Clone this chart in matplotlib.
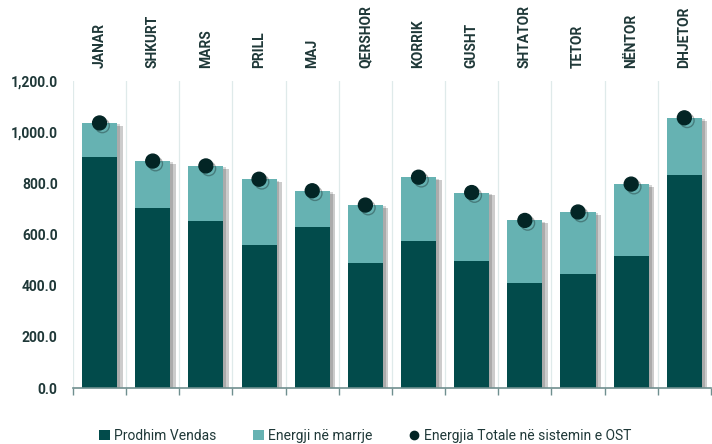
import matplotlib
matplotlib.use("Agg")
import matplotlib.pyplot as plt
import matplotlib.patheffects as pe
from matplotlib.patches import Patch
from matplotlib.lines import Line2D
from matplotlib.ticker import FuncFormatter, FixedLocator
import numpy as np

plt.rcParams['font.family'] = ['Roboto', 'DejaVu Sans']

months = ["JANAR", "SHKURT", "MARS", "PRILL", "MAJ", "QERSHOR",
          "KORRIK", "GUSHT", "SHTATOR", "TETOR", "NËNTOR", "DHJETOR"]
prodhim_vendas = [901, 703, 654, 560, 629, 488, 575, 496, 410, 444, 517, 833]
energji_marrje = [135, 184, 214, 256, 142, 227, 249, 268, 245, 244, 280, 223]
energji_totale = [a + b for a, b in zip(prodhim_vendas, energji_marrje)]

dark = "#024b4b"
light = "#66b2b2"
dot = "#032525"
text_col = "#1f3838"

fig = plt.figure(figsize=(7.12, 4.44), dpi=100)
ax = fig.add_axes([0.1025, 0.1261, 0.896, 0.6915])

x = np.arange(len(months))
bar_w = 0.66

# soft drop shadow behind each full stacked column
stack_tot = [a + b for a, b in zip(prodhim_vendas, energji_marrje)]
ax.bar(x, stack_tot, width=bar_w, color="white", zorder=2,
       path_effects=[pe.SimplePatchShadow(offset=(4, -2), shadow_rgbFace="#000000", alpha=0.2)])
ax.bar(x, stack_tot, width=bar_w, color="white", zorder=2,
       path_effects=[pe.SimplePatchShadow(offset=(2, -1), shadow_rgbFace="#000000", alpha=0.16)])

ax.bar(x, prodhim_vendas, width=bar_w, color=dark, zorder=3)
ax.bar(x, energji_marrje, width=bar_w, bottom=prodhim_vendas, color=light, zorder=3)

ax.plot(x, energji_totale, linestyle="none", marker="o", markersize=10,
        color=dot, zorder=5,
        path_effects=[pe.SimpleLineShadow(offset=(2, -2), shadow_color="#000000", alpha=0.3),
                      pe.Normal()])

ax.set_xlim(-0.5, len(months) - 0.5)
ax.set_ylim(0, 1200)
ax.set_yticks(np.arange(0, 1201, 200))
ax.yaxis.set_major_formatter(FuncFormatter(lambda v, p: f"{v:,.1f}"))

# month names along the top, boundaries ticked along the bottom
ax.set_xticks(x)
ax.set_xticklabels(months, rotation=90, fontsize=10, fontweight="bold", color=text_col)
ax.tick_params(axis="x", which="major", top=False, bottom=False,
               labeltop=True, labelbottom=False, pad=6)
ax.xaxis.set_minor_locator(FixedLocator(np.arange(-0.5, len(months), 1.0)))
ax.tick_params(axis="x", which="minor", bottom=True, length=5, width=1, color="#6f8f8f")
ax.grid(axis="x", which="minor", color="#dfeaea", linewidth=0.9, zorder=0)

ax.tick_params(axis="y", length=0, pad=11, labelsize=10, labelcolor=text_col)
for lbl in ax.get_yticklabels():
    lbl.set_fontweight("bold")

for s in ["top", "right", "left"]:
    ax.spines[s].set_visible(False)
ax.spines["bottom"].set_color("#6f8f8f")
ax.spines["bottom"].set_linewidth(1.2)
ax.spines["bottom"].set_zorder(6)

handles = [Patch(facecolor=dark, label="Prodhim Vendas"),
           Patch(facecolor=light, label="Energji në marrje"),
           Line2D([], [], linestyle="none", marker="o", markersize=6, color=dot,
                  label="Energjia Totale në sistemin e OST")]
fig.legend(handles=handles, loc="center", bbox_to_anchor=(0.513, 0.018), ncol=3,
           frameon=False, fontsize=10, handlelength=0.8, handleheight=0.8,
           handletextpad=0.3, columnspacing=2.6, labelcolor=text_col)

fig.savefig("out.png", dpi=100)
